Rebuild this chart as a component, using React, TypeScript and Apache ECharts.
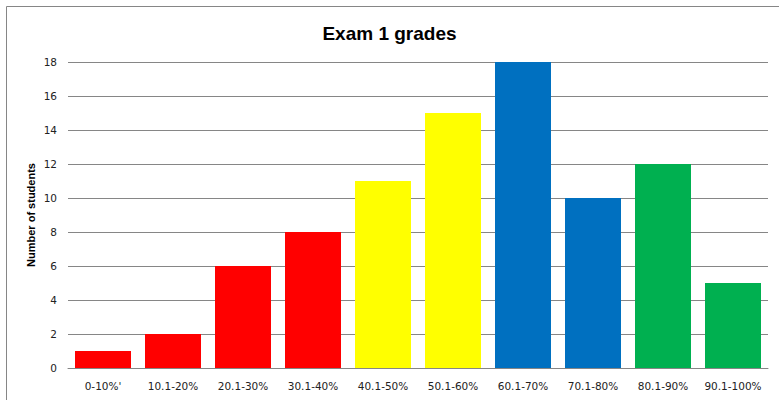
import React, { useEffect, useRef } from "react";
import * as echarts from "echarts";

const categories = ["0-10%'", "10.1-20%", "20.1-30%", "30.1-40%", "40.1-50%", "50.1-60%", "60.1-70%", "70.1-80%", "80.1-90%", "90.1-100%"];
const students = [1, 2, 6, 8, 11, 15, 18, 10, 12, 5];
const barColors = ["#FF0000", "#FF0000", "#FF0000", "#FF0000", "#FFFF00", "#FFFF00", "#0070C0", "#0070C0", "#00B050", "#00B050"];

export default function App() {
  const ref = useRef<HTMLDivElement>(null);
  useEffect(() => {
    const chart = echarts.init(ref.current!, null, { renderer: "svg" });
    chart.setOption({
      animation: false,
      backgroundColor: "#ffffff",
      title: {
        text: "Exam 1 grades",
        left: "center",
        top: 19,
        textStyle: { fontFamily: "Liberation Sans", fontWeight: "bold", fontSize: 19, color: "#000" },
      },
      graphic: [
        {
          type: "rect",
          shape: { x: 6.5, y: 6.5, width: 900, height: 600 },
          style: { fill: "none", stroke: "#868686", lineWidth: 1 },
          silent: true,
        },
      ],
      grid: { left: 68, right: 11, top: 62, bottom: 32, containLabel: false },
      xAxis: {
        type: "category",
        data: categories,
        axisLine: { show: true, lineStyle: { color: "#868686", width: 1 } },
        axisTick: { show: false },
        axisLabel: { fontFamily: "DejaVu Sans", fontSize: 10.5, color: "#222", margin: 12, interval: 0 },
      },
      yAxis: {
        type: "value",
        min: 0,
        max: 18,
        interval: 2,
        name: "Number of students",
        nameLocation: "middle",
        nameGap: 32,
        nameMoveOverlap: false,
        nameRotate: 90,
        nameTextStyle: { fontFamily: "Liberation Sans", fontWeight: "bold", fontSize: 11, color: "#000" },
        axisLine: { show: false },
        axisTick: { show: false },
        splitLine: { lineStyle: { color: "#868686", width: 1 } },
        axisLabel: { fontFamily: "DejaVu Sans", fontSize: 10.5, color: "#222", margin: 11 },
      },
      series: [
        {
          type: "bar",
          barCategoryGap: "20%",
          data: students.map((v, i) => ({ value: v, itemStyle: { color: barColors[i] } })),
        },
      ],
    });
    return () => chart.dispose();
  }, []);
  return <div ref={ref} style={{ position: "fixed", left: 0, top: 0, width: 779, height: 400 }} />;
}
